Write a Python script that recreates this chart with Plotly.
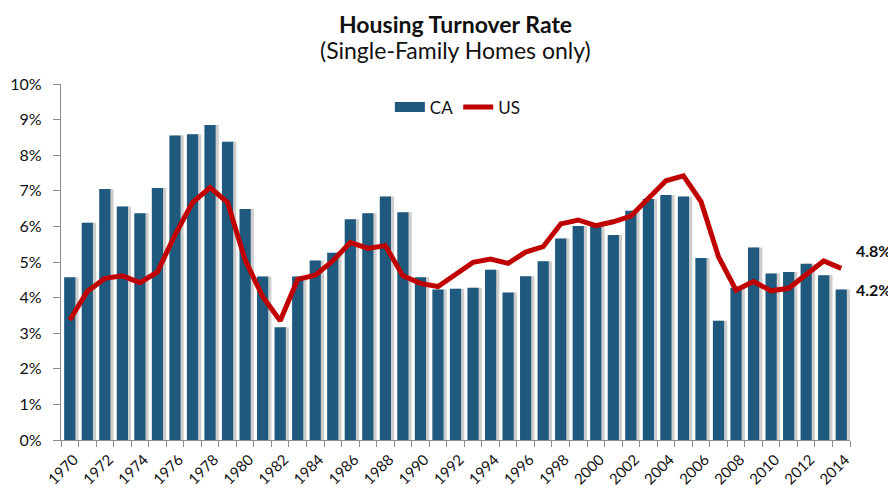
import plotly.graph_objects as go

years = list(range(1970, 2015))
ca = [4.57, 6.10, 7.05, 6.56, 6.37, 7.08, 8.55, 8.59, 8.85, 8.38,
      6.49, 4.59, 3.17, 4.59, 5.04, 5.26, 6.20, 6.37, 6.84, 6.40,
      4.57, 4.23, 4.25, 4.28, 4.78, 4.14, 4.60, 5.02, 5.66, 6.01,
      6.02, 5.76, 6.44, 6.77, 6.88, 6.84, 5.11, 3.35, 4.28, 5.41,
      4.68, 4.72, 4.95, 4.63, 4.23]
us = [3.37, 4.17, 4.54, 4.61, 4.42, 4.72, 5.76, 6.67, 7.09, 6.67,
      5.06, 4.03, 3.35, 4.51, 4.63, 5.03, 5.55, 5.38, 5.46, 4.61,
      4.40, 4.31, 4.65, 4.99, 5.08, 4.96, 5.28, 5.43, 6.07, 6.18,
      6.02, 6.13, 6.29, 6.79, 7.28, 7.42, 6.70, 5.15, 4.21, 4.45,
      4.19, 4.26, 4.63, 5.03, 4.82]
label_years = list(range(1970, 2015, 2))
y_ticks = list(range(0, 11))
title_text = "Housing Turnover Rate"
subtitle_text = "(Single-Family Homes only)"

FONT = "Lato"
BAR = "#1F5A7E"
LINE = "#C00000"
AXIS = "#8C8C8C"
BW = 0.64

# page body has an 8px margin, so the figure is sized/placed to compensate
W, H = 888, 483
ML, MR, MT, MB = 53, 46, 76, 51
PH = H - MT - MB


def py(px_from_top):
    return (H - MB - px_from_top) / PH


fig = go.Figure()
fig.add_trace(go.Bar(x=years, y=ca, width=BW, offset=-BW / 2 + 0.18,
                     marker=dict(color="rgba(90,90,90,0.30)", line=dict(width=0)),
                     showlegend=False, hoverinfo="skip"))
fig.add_trace(go.Bar(x=years, y=ca, name="CA", width=BW, offset=-BW / 2,
                     marker=dict(color=BAR, line=dict(width=0)), showlegend=False))
fig.add_trace(go.Scatter(x=[None], y=[None], name="CA", mode="lines",
                         line=dict(color=BAR, width=10)))
fig.add_trace(go.Scatter(x=years, y=us, name="US", mode="lines",
                         line=dict(color=LINE, width=5)))

fig.add_annotation(x=years[-1], y=us[-1], text=f"<b>{us[-1]:.1f}%</b>",
                   showarrow=False, xanchor="left", xshift=13, yshift=18,
                   font=dict(family=FONT, size=16, color="#111"))
fig.add_annotation(x=years[-1], y=ca[-1], text=f"<b>{ca[-1]:.1f}%</b>",
                   showarrow=False, xanchor="left", xshift=13, yshift=0,
                   font=dict(family=FONT, size=16, color="#111"))

fig.add_annotation(xref="paper", yref="paper", x=0.5, y=py(16), xanchor="center", yanchor="middle",
                   text=f"<b>{title_text}</b>", showarrow=False,
                   font=dict(family=FONT, size=23, color="#111"))
fig.add_annotation(xref="paper", yref="paper", x=0.5, y=py(42), xanchor="center", yanchor="middle",
                   text=subtitle_text, showarrow=False,
                   font=dict(family=FONT, size=23, color="#111"))

fig.update_layout(
    width=W, height=H,
    margin=dict(l=ML, r=MR, t=MT, b=MB, autoexpand=False),
    paper_bgcolor="white", plot_bgcolor="white",
    font=dict(family=FONT, size=15, color="#111"),
    legend=dict(orientation="h", x=0.503, xanchor="center", y=0.934, yanchor="middle",
                font=dict(family=FONT, size=17), bgcolor="rgba(0,0,0,0)",
                itemwidth=30, tracegroupgap=0),
    barmode="overlay",
)
fig.update_xaxes(range=[1969.5, 2014.5], tickvals=label_years, ticktext=[str(y) for y in label_years],
                 tickangle=-45, ticks="", showline=True, linecolor=AXIS, linewidth=1,
                 showgrid=False, zeroline=False, automargin=False,
                 tickfont=dict(family=FONT, size=15), ticklabelstandoff=4, ticklabelshift=4,
                 minor=dict(tick0=1969.5, dtick=1, ticks="outside", ticklen=6, tickcolor=AXIS, showgrid=False))
fig.update_yaxes(range=[0, 10], tickvals=y_ticks, ticktext=[f"{v}%\u00a0\u00a0" for v in y_ticks],
                 ticks="outside", ticklen=7, tickcolor=AXIS, showline=True, linecolor=AXIS,
                 linewidth=1, showgrid=False, zeroline=False, automargin=False,
                 tickfont=dict(family=FONT, size=16))

fig.write_html("out.html")
